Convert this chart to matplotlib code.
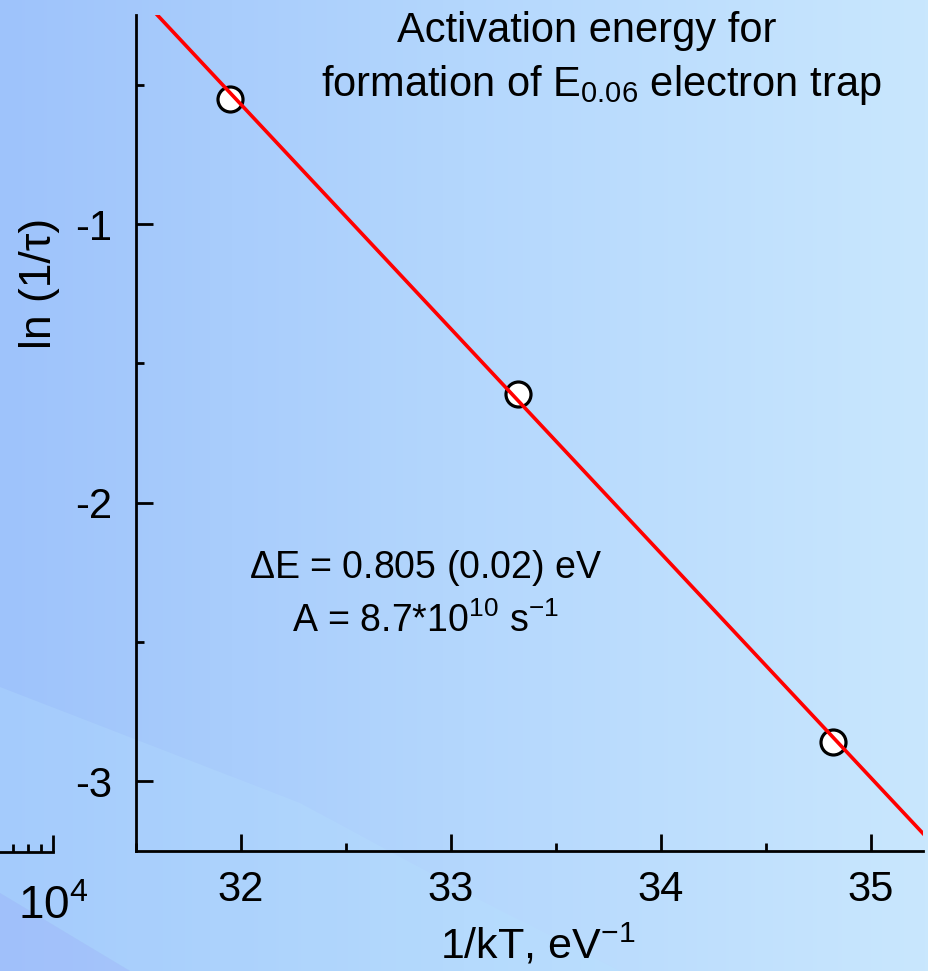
import numpy as np
import matplotlib
matplotlib.use("Agg")
import matplotlib.pyplot as plt
from matplotlib.colors import LinearSegmentedColormap
from matplotlib.patches import Polygon
from matplotlib.ticker import MultipleLocator, LogLocator, NullFormatter

plt.rcParams["font.family"] = ["Liberation Sans", "DejaVu Sans"]
plt.rcParams["mathtext.fontset"] = "custom"
plt.rcParams["mathtext.rm"] = "Liberation Sans"
plt.rcParams["mathtext.it"] = "Liberation Sans:italic"
plt.rcParams["axes.unicode_minus"] = False

# measured relaxation rates vs inverse thermal energy
inv_kT = [31.95, 33.32, 34.82]
ln_rate = [-0.55, -1.61, -2.86]

# Arrhenius fit parameters
delta_E = 0.805
delta_E_err = 0.02
prefactor = 8.7e10
fit_range = [31.6, 35.25]

W, H = 929, 971
fig = plt.figure(figsize=(W / 100, H / 100), dpi=100)

# slide background: horizontal blue gradient with soft waves in the corner
bg = fig.add_axes([0, 0, 1, 1], zorder=-10)
bg.set_xlim(0, W)
bg.set_ylim(H, 0)
bg.axis("off")
cmap = LinearSegmentedColormap.from_list("slide", ["#9ec3fb", "#b4d7fd", "#c9e7fd"])
grad = np.linspace(0, 1, 256).reshape(1, -1)
bg.imshow(grad, cmap=cmap, aspect="auto", extent=[0, W, H, 0])
bg.add_patch(Polygon([[0, 687], [300, 803], [480, 900], [620, 971], [130, 971], [0, 893]],
                     closed=True, facecolor="#b8e4ff", alpha=0.25, edgecolor="none"))
bg.add_patch(Polygon([[0, 893], [130, 971], [0, 971]],
                     closed=True, facecolor="#a6bcfa", alpha=0.35, edgecolor="none"))

# main Arrhenius plot
ax = fig.add_axes([136 / W, 1 - 851 / H, (923 - 136) / W, (851 - 15) / H])
ax.patch.set_alpha(0)
ax.set_xlim(31.5, 35.25)
ax.set_ylim(-3.25, -0.25)

xs = np.array(fit_range)
ax.plot(inv_kT, ln_rate, "o", ms=18, mfc="white", mec="black", mew=2.3, zorder=2)
ax.plot(xs, np.log(prefactor) - delta_E * xs, color="#ff0000", lw=2.6, zorder=3)

for side in ["top", "right"]:
    ax.spines[side].set_visible(False)
for side in ["left", "bottom"]:
    ax.spines[side].set_linewidth(2.0)

ax.xaxis.set_major_locator(MultipleLocator(1))
ax.xaxis.set_minor_locator(MultipleLocator(0.5))
ax.yaxis.set_major_locator(MultipleLocator(1))
ax.yaxis.set_minor_locator(MultipleLocator(0.5))
ax.tick_params(which="both", direction="in", width=2.0, labelsize=30)
ax.tick_params(axis="x", pad=14)
ax.tick_params(axis="y", pad=17)
ax.tick_params(which="major", length=12)
ax.tick_params(which="minor", length=6)

fig.text(40 / W, 1 - 283 / H, "ln (1/τ)", rotation=90, ha="center", va="center", fontsize=32)
fig.text(538 / W, 1 - 958 / H, r"1/kT, eV$^{-1}$", ha="center", va="baseline", fontsize=31)

fig.text(587 / W, 1 - 42 / H, "Activation energy for", ha="center", va="baseline", fontsize=30)
fig.text(601 / W, 1 - 96 / H, r"formation of E$_{0.06}$ electron trap",
         ha="center", va="baseline", fontsize=30)

ax.text(32.88, -2.269, r"$\Delta$E = %.3f (%.2f) eV" % (delta_E, delta_E_err),
        ha="center", va="baseline", fontsize=27)
ax.text(32.88, -2.463, r"A = 8.7*10$^{10}$ s$^{-1}$", ha="center", va="baseline", fontsize=27)

# fragment of a neighbouring log axis at the left edge
ax2 = fig.add_axes([0, 1 - 852 / H, 53 / W, 0.02])
ax2.patch.set_alpha(0)
ax2.set_xscale("log")
ax2.set_xlim(10 ** (4 - 53 / 260), 1e4)
for side in ["top", "right", "left"]:
    ax2.spines[side].set_visible(False)
ax2.spines["bottom"].set_linewidth(2.0)
ax2.set_yticks([])
ax2.xaxis.set_major_locator(LogLocator(base=10))
ax2.xaxis.set_minor_locator(LogLocator(base=10, subs=np.arange(2, 10)))
ax2.xaxis.set_minor_formatter(NullFormatter())
ax2.tick_params(which="both", direction="in", width=2.0, labelsize=33, pad=24)
ax2.tick_params(which="major", length=12)
ax2.tick_params(which="minor", length=6)

fig.savefig("out.png", dpi=100)
